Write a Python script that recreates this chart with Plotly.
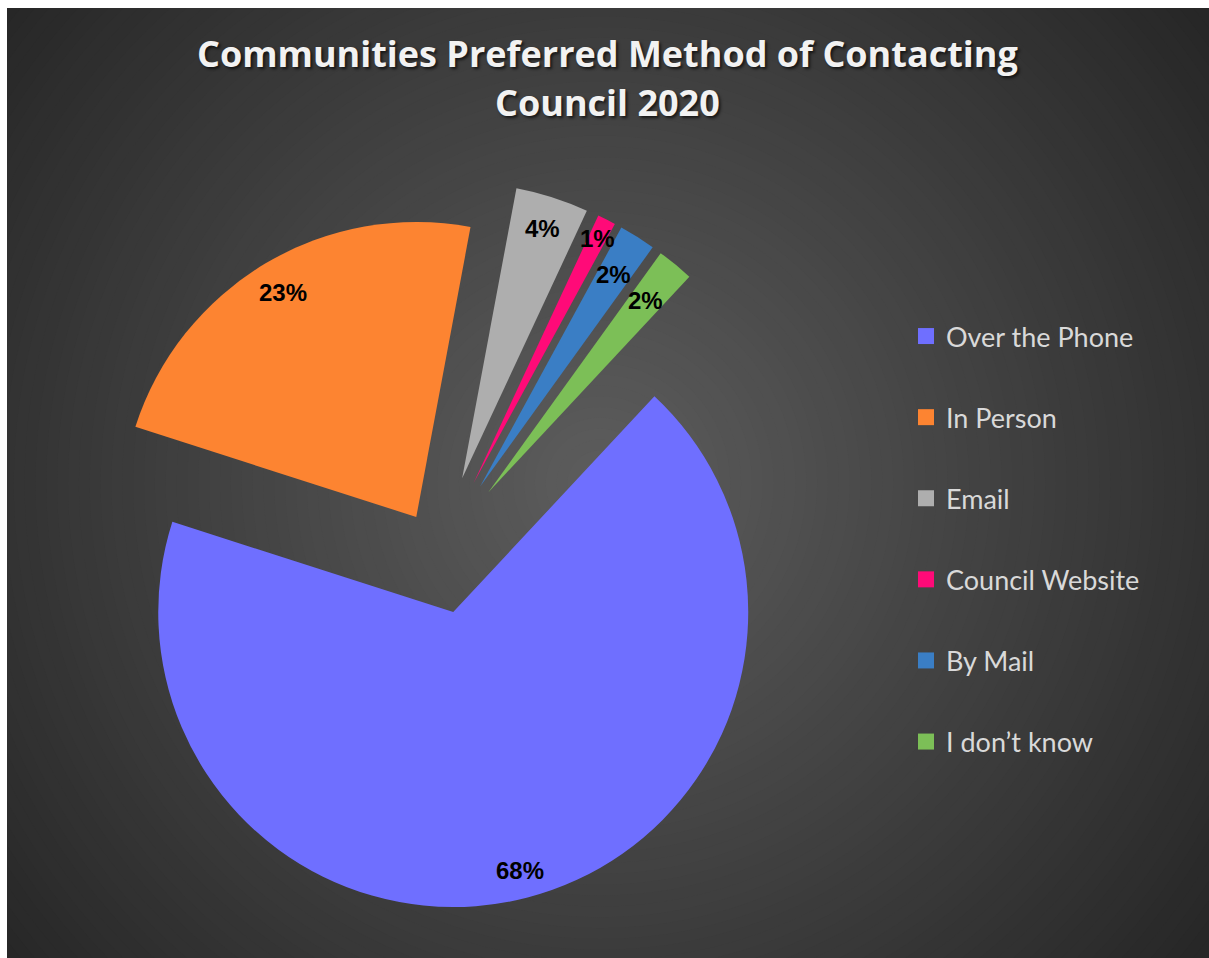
import numpy as np
import plotly.graph_objects as go

# ---------------- data ----------------
labels = ["Over the Phone", "In Person", "Email", "Council Website", "By Mail", "I don\u2019t know"]
values = [68, 23, 4, 1, 2, 2]
title_lines = ["Communities Preferred Method of Contacting", "Council 2020"]

# ---------------- style ----------------
colors = ["#6F6FFF", "#FD8431", "#AEAEAE", "#FF0A78", "#3A7EC5", "#7CBF57"]
pulls = [0.205, 0.144, 0.268, 0.268, 0.268, 0.268]
label_r = [0.904, 0.885, 0.89, 0.93, 0.85, 0.84]   # label distance as fraction of radius

W, H = 1209, 958
cx, cy, R = 438.0, 553.5, 295.0      # pie centre / radius in px
start_angle = 43                      # first slice starts here (clockwise from 12 o'clock)

maxpull = max(pulls)
box = 2 * R * (1 + maxpull)
dom_x = [(cx - box / 2) / W, (cx + box / 2) / W]
dom_y = [1 - (cy + box / 2) / H, 1 - (cy - box / 2) / H]

fig = go.Figure()

fig.add_trace(go.Pie(
    labels=labels, values=values, sort=False, direction="clockwise",
    rotation=start_angle, pull=pulls,
    marker=dict(colors=colors, line=dict(width=0)),
    textinfo="none", hoverinfo="label+percent", showlegend=False,
    domain=dict(x=dom_x, y=dom_y),
))

# legend entries (larger, evenly spaced like the original)
for lab, col in zip(labels, colors):
    fig.add_trace(go.Scatter(
        x=[None], y=[None], mode="markers", name=lab, legendgroup=lab,
        marker=dict(symbol="square", size=16, color=col), hoverinfo="skip",
    ))

# ---------------- background radial gradient ----------------
shapes = []
shapes.append(dict(type="rect", xref="paper", yref="paper", x0=0, x1=1, y0=0, y1=1,
                   fillcolor="#272727", line=dict(width=0), layer="below"))
gx, gy, dmax = 600.0, 483.0, 760.0
c_center, c_edge = 0x5D, 0x27
N = 70
for k in range(N, 0, -1):
    rad = dmax * k / N
    t = (k - 0.5) / N
    c = int(round(c_edge + (c_center - c_edge) * (1 - t)))
    shapes.append(dict(type="circle", xref="paper", yref="paper",
                       x0=(gx - rad) / W, x1=(gx + rad) / W,
                       y0=1 - (gy + rad) / H, y1=1 - (gy - rad) / H,
                       fillcolor=f"rgb({c},{c},{c})", line=dict(width=0), layer="below"))
# white frame at top / left
shapes.append(dict(type="rect", xref="paper", yref="paper", x0=-0.01, x1=1.01,
                   y0=1 - 8 / H, y1=1.01, fillcolor="white", line=dict(width=0), layer="below"))
shapes.append(dict(type="rect", xref="paper", yref="paper", x0=-0.01, x1=7 / W,
                   y0=-0.01, y1=1.01, fillcolor="white", line=dict(width=0), layer="below"))

# ---------------- slice labels (computed from the data) ----------------
annotations = []
total = float(sum(values))
ang = start_angle
for v, p, lr in zip(values, pulls, label_r):
    span = 360.0 * v / total
    mid = np.radians(ang + span / 2)
    d = R * (p + lr)
    x = cx + d * np.sin(mid)
    y = cy - d * np.cos(mid)
    annotations.append(dict(
        x=x / W, y=1 - y / H, xref="paper", yref="paper", showarrow=False,
        text=f"{round(100 * v / total)}%", xanchor="center", yanchor="middle",
        font=dict(family="Liberation Sans, Arial", size=24, color="black", weight="bold"),
    ))
    ang += span

# ---------------- title ----------------
for txt, ty in zip(title_lines, [54, 102]):
    annotations.append(dict(
        x=607 / W, y=1 - ty / H, xref="paper", yref="paper", showarrow=False,
        text=txt, xanchor="center", yanchor="middle",
        font=dict(family="Open Sans", size=36, color="#F2F2F2", weight="bold",
                  shadow="2px 2px 3px rgba(0,0,0,0.65)"),
    ))

fig.update_layout(
    width=W, height=H,
    margin=dict(l=0, r=0, t=0, b=0),
    paper_bgcolor="white", plot_bgcolor="rgba(0,0,0,0)",
    xaxis=dict(visible=False), yaxis=dict(visible=False),
    shapes=shapes, annotations=annotations,
    legend=dict(x=906 / W, xanchor="left", y=1 - 312 / H, yanchor="top",
                font=dict(family="Lato", size=27, color="#D9D9D9"),
                bgcolor="rgba(0,0,0,0)", traceorder="grouped", tracegroupgap=43),
    showlegend=True,
)

fig.write_html("out.html")
